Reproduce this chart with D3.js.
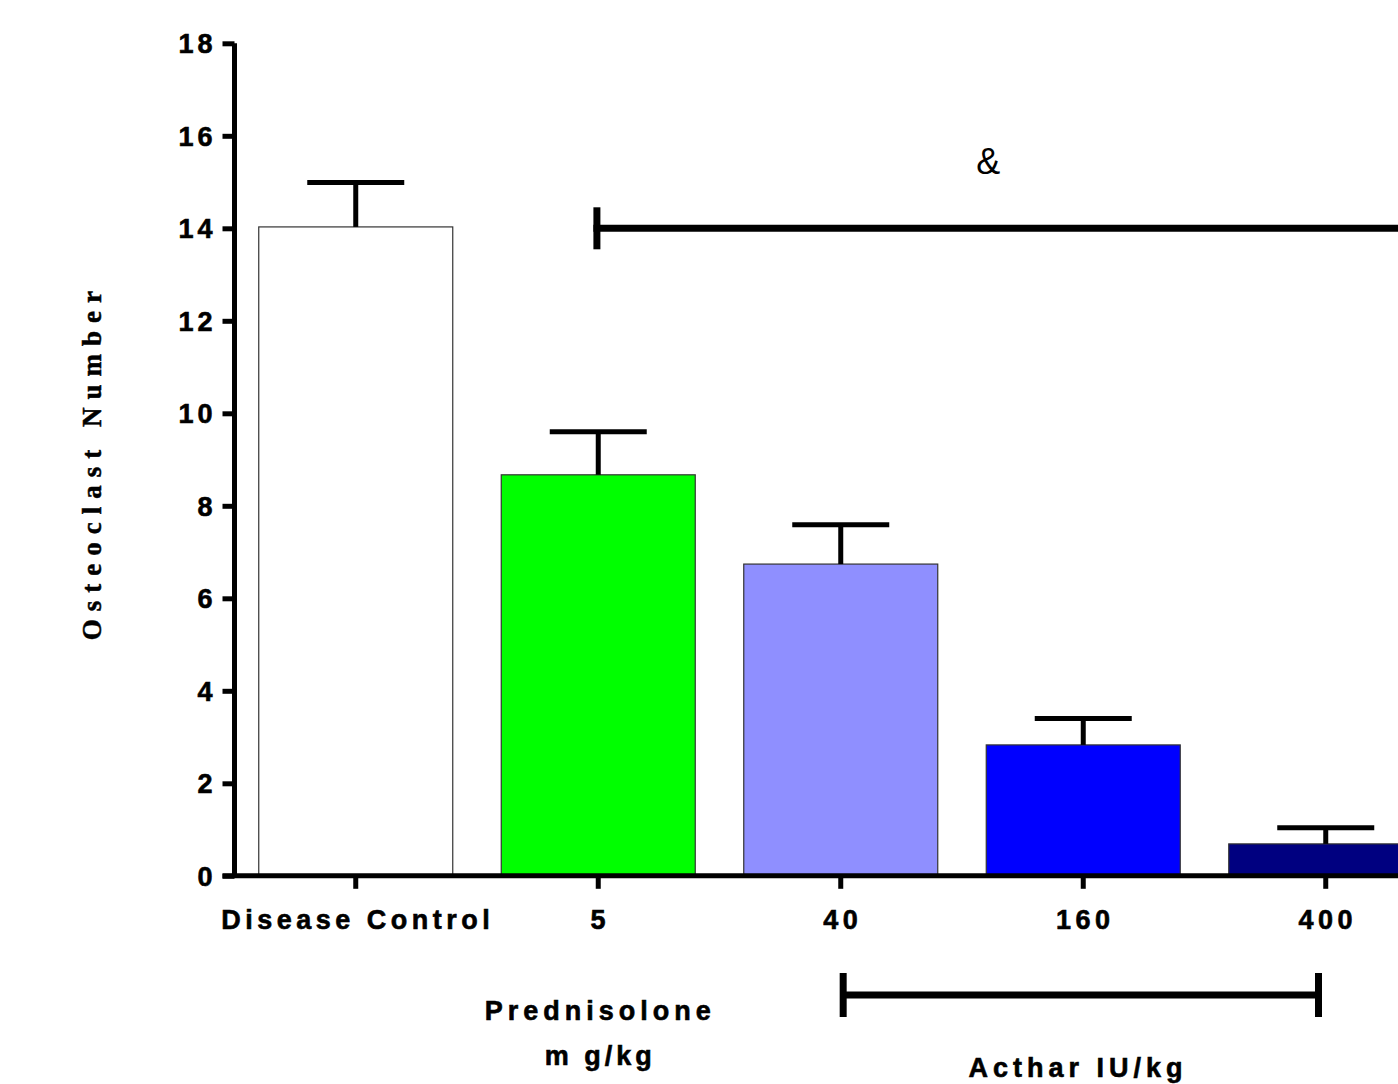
<!DOCTYPE html>
<html>
<head>
<meta charset="utf-8">
<script src="https://cdn.jsdelivr.net/npm/d3@7"></script>
<style>
  html, body { margin: 0; padding: 0; background: #fff; overflow: hidden; }
  svg { display: block; }
</style>
</head>
<body>
<svg id="chart" width="1398" height="1084"></svg>
<script>
// ---- data ----
const categories = ["Disease Control", "5", "40", "160", "400"];
const means = [14.03, 8.67, 6.74, 2.83, 0.69];
const sems = [0.96, 0.93, 0.85, 0.57, 0.35];
const barColors = ["#ffffff", "#00ff00", "#8f8fff", "#0000ff", "#000080"];
const yTicks = [0, 2, 4, 6, 8, 10, 12, 14, 16, 18];
const yTitle = "Osteoclast Number";
const groupLabels = [
  { text: "Prednisolone", idx: 1.0, row: 0, ls: 5 },
  { text: "m g/kg", idx: 1.0, row: 1, ls: 4 },
  { text: "Acthar IU/kg", idx: 2.97, row: 2, ls: 5 }
];
const sigTop = { from: 0.98, to: 4.5, value: 14.0, label: "&", labelIdx: 2.6, labelValue: 15.0 };
const acthar = { from: 2.01, to: 3.97 };

// ---- layout ----
const svg = d3.select("#chart");
const axisX = 234.5;
const y0px = 875.8, y18px = 43.3;
const step = 242.5;

const y = d3.scaleLinear().domain([0, 18]).range([y0px, y18px]);
const x = d3.scaleBand().domain(categories)
  .range([axisX, axisX + step * categories.length])
  .paddingInner(0.2).paddingOuter(0.1);
const xi = d3.scaleLinear().domain([0, 1]).range([x(categories[0]) + x.bandwidth() / 2, x(categories[1]) + x.bandwidth() / 2]);

const sans = "'Liberation Sans', Arial, Helvetica, sans-serif";
const serif = "'Liberation Serif', 'Times New Roman', serif";

// bars
svg.append("g").selectAll("rect").data(categories).join("rect")
  .attr("x", d => x(d))
  .attr("y", (d, i) => y(means[i]))
  .attr("width", x.bandwidth())
  .attr("height", (d, i) => y(0) - y(means[i]))
  .attr("fill", (d, i) => barColors[i])
  .attr("stroke", "#333")
  .attr("stroke-width", 1.2);

// error bars (upper only)
const eb = svg.append("g").attr("stroke", "#000").attr("stroke-width", 5);
categories.forEach((c, i) => {
  const cx = x(c) + x.bandwidth() / 2;
  eb.append("line").attr("x1", cx).attr("x2", cx).attr("y1", y(means[i])).attr("y2", y(means[i] + sems[i]));
  eb.append("line").attr("x1", cx - x.bandwidth() / 4).attr("x2", cx + x.bandwidth() / 4)
    .attr("y1", y(means[i] + sems[i])).attr("y2", y(means[i] + sems[i]));
});

// y axis
const yAxis = svg.append("g").attr("transform", `translate(${axisX},0)`)
  .call(d3.axisLeft(y).tickValues(yTicks).tickSize(12).tickPadding(6).tickFormat(d3.format("d")));
yAxis.select(".domain").attr("stroke-width", 5).attr("d", `M0,${y(0)}V${y(18)}`);
yAxis.selectAll(".tick line").attr("stroke-width", 5);
yAxis.selectAll(".tick text")
  .attr("font-family", sans).attr("font-weight", "bold").attr("font-size", 27)
  .attr("letter-spacing", 4).attr("dy", "0.35em").attr("fill", "#000")
  .attr("stroke", "#000").attr("stroke-width", 0.6);

// x axis
const xAxis = svg.append("g").attr("transform", `translate(0,${y(0)})`)
  .call(d3.axisBottom(x).tickSize(13).tickPadding(21));
xAxis.select(".domain").attr("stroke-width", 5).attr("d", `M${axisX - 12},0H1420`);
xAxis.selectAll(".tick line").attr("stroke-width", 5);
xAxis.selectAll(".tick text")
  .attr("font-family", sans).attr("font-weight", "bold").attr("font-size", 27)
  .attr("letter-spacing", 4.5).attr("dx", 2).attr("fill", "#000")
  .attr("stroke", "#000").attr("stroke-width", 0.6);

// y title
svg.append("text")
  .attr("transform", `translate(101,${(y(0) + y(18)) / 2 + 2}) rotate(-90)`)
  .attr("text-anchor", "middle")
  .attr("font-family", serif).attr("font-weight", "bold").attr("font-size", 27)
  .attr("letter-spacing", 8)
  .attr("stroke", "#000").attr("stroke-width", 0.5)
  .style("white-space", "pre")
  .text(yTitle);

// group labels
const rowY = [1020, 1065, 1077];
svg.append("g").selectAll("text").data(groupLabels).join("text")
  .attr("x", d => xi(d.idx) + 2)
  .attr("y", d => rowY[d.row])
  .attr("text-anchor", "middle")
  .attr("font-family", sans).attr("font-weight", "bold").attr("font-size", 27)
  .attr("letter-spacing", d => d.ls)
  .attr("stroke", "#000").attr("stroke-width", 0.6)
  .style("white-space", "pre")
  .text(d => d.text);

// significance line top
const sg = svg.append("g").attr("stroke", "#000").attr("stroke-width", 7);
sg.append("line").attr("x1", xi(sigTop.from)).attr("x2", xi(sigTop.to))
  .attr("y1", y(sigTop.value)).attr("y2", y(sigTop.value));
sg.append("line").attr("x1", xi(sigTop.from) + 3.5).attr("x2", xi(sigTop.from) + 3.5)
  .attr("y1", y(sigTop.value) - 21).attr("y2", y(sigTop.value) + 21);
svg.append("text")
  .attr("x", xi(sigTop.labelIdx) + 2).attr("y", y(sigTop.labelValue) - 8)
  .attr("text-anchor", "middle")
  .attr("font-family", sans).attr("font-size", 36).attr("fill", "#000")
  .text(sigTop.label);

// Acthar bracket
const ab = svg.append("g").attr("stroke", "#000").attr("stroke-width", 7);
const by = 995;
ab.append("line").attr("x1", xi(acthar.from)).attr("x2", xi(acthar.to)).attr("y1", by).attr("y2", by);
ab.append("line").attr("x1", xi(acthar.from)).attr("x2", xi(acthar.from)).attr("y1", by - 22).attr("y2", by + 22);
ab.append("line").attr("x1", xi(acthar.to)).attr("x2", xi(acthar.to)).attr("y1", by - 22).attr("y2", by + 22);
</script>
</body>
</html>
